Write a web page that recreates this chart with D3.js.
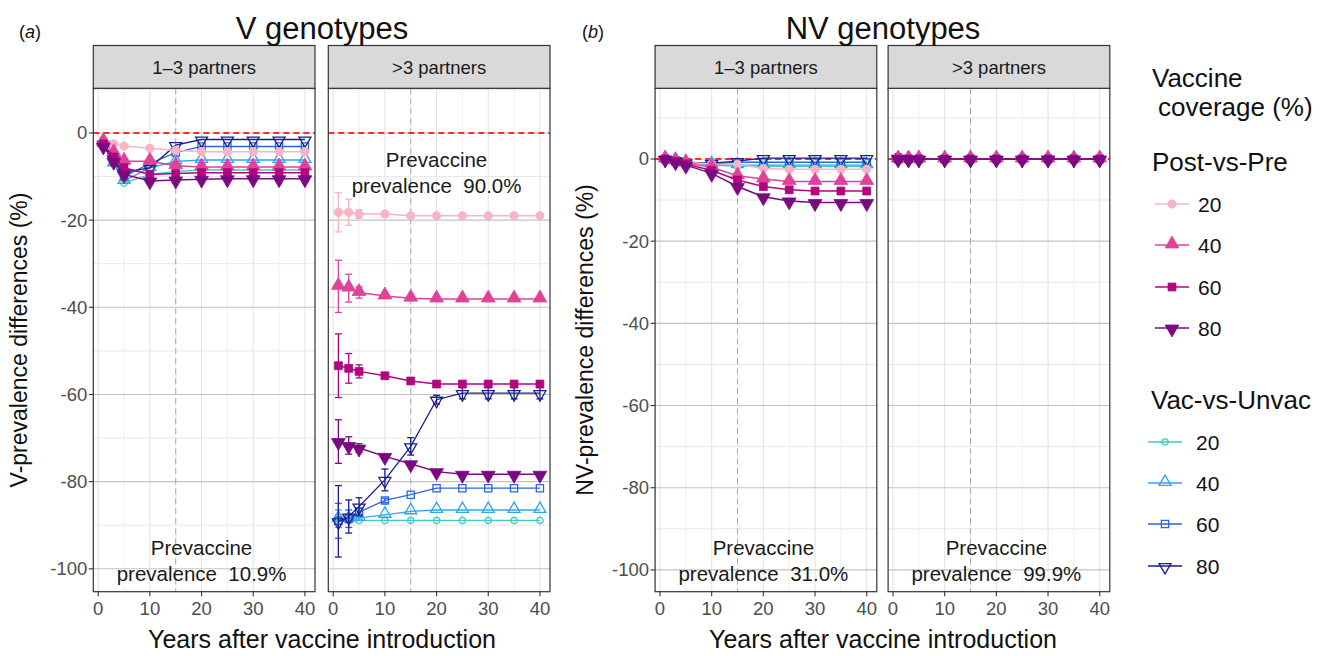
<!DOCTYPE html>
<html><head><meta charset="utf-8">
<script src="https://cdn.jsdelivr.net/npm/d3@7"></script>
<style>
body{margin:0;background:#fff;}
text{font-family:"Liberation Sans",Arial,sans-serif;}
</style></head>
<body><svg id="c" width="1329" height="656"></svg>
<script>
// ---------------- data ----------------
const times = [1, 3, 5, 10, 15, 20, 25, 30, 35, 40];
const coverages = [20, 40, 60, 80];
const xTicks = [0, 10, 20, 30, 40];
const yTicks = [0, -20, -40, -60, -80, -100];
const facetLabels = ["1\u20133 partners", ">3 partners"];

// (a) V genotypes, 1–3 partners
const aLow_pvp20 = [-1.5, -2.5, -3.0, -3.5, -4.0, -4.3, -4.3, -4.3, -4.3, -4.3];
const aLow_pvp40 = [-2.0, -4.5, -6.5, -6.5, -7.5, -7.8, -7.8, -7.8, -7.8, -7.8];
const aLow_pvp60 = [-2.5, -5.5, -8.0, -9.5, -9.3, -9.1, -9.1, -9.1, -9.1, -9.1];
const aLow_pvp80 = [-3.0, -6.5, -9.5, -11.0, -10.8, -10.6, -10.5, -10.5, -10.5, -10.5];
const aLow_vvu20 = [-2.5, -7.0, -11.5, -9.5, -8.8, -8.5, -8.5, -8.5, -8.5, -8.5];
const aLow_vvu40 = [-2.5, -7.0, -11.0, -8.0, -6.5, -6.2, -6.2, -6.2, -6.2, -6.2];
const aLow_vvu60 = [-2.5, -6.5, -10.0, -7.0, -4.5, -3.1, -3.1, -3.1, -3.1, -3.1];
const aLow_vvu80 = [-2.5, -6.0, -9.0, -8.0, -2.8, -1.5, -1.5, -1.5, -1.5, -1.5];

// (a) V genotypes, >3 partners
const aHigh_pvp20 = [-18.2, -18.2, -18.6, -18.6, -19.0, -19.0, -19.0, -19.0, -19.0, -19.0];
const aHigh_pvp40 = [-35.2, -35.6, -36.6, -37.4, -37.9, -38.1, -38.1, -38.1, -38.1, -38.1];
const aHigh_pvp60 = [-53.4, -54.0, -54.7, -55.7, -56.9, -57.6, -57.6, -57.6, -57.6, -57.6];
const aHigh_pvp80 = [-70.8, -71.7, -72.3, -74.2, -75.9, -77.7, -78.3, -78.3, -78.3, -78.3];
const aHigh_vvu20 = [-88.6, -88.8, -88.9, -88.9, -88.9, -88.9, -88.9, -88.9, -88.9, -88.9];
const aHigh_vvu40 = [-88.5, -88.5, -88.3, -87.6, -86.8, -86.5, -86.5, -86.5, -86.5, -86.5];
const aHigh_vvu60 = [-89.0, -88.5, -87.0, -84.3, -83.0, -81.5, -81.5, -81.5, -81.5, -81.5];
const aHigh_vvu80 = [-89.1, -88.0, -85.7, -79.6, -71.9, -61.2, -59.7, -59.7, -59.7, -59.7];

// (a) >3 partners, error-bar half widths
const aHighErr_pvp20 = [4.5, 3.0, 1.0, 0.5, 0, 0, 0, 0, 0, 0];
const aHighErr_pvp40 = [6.0, 3.2, 1.3, 0.5, 0, 0, 0, 0, 0, 0];
const aHighErr_pvp60 = [7.3, 3.4, 1.5, 0.5, 0, 0, 0, 0, 0, 0];
const aHighErr_pvp80 = [5.0, 2.0, 1.0, 0.5, 0, 0, 0, 0, 0, 0];
const aHighErr_vvu20 = [1.0, 0.5, 0, 0, 0, 0, 0, 0, 0, 0];
const aHighErr_vvu40 = [2.0, 1.0, 0.5, 0, 0, 0, 0, 0, 0, 0];
const aHighErr_vvu60 = [4.0, 2.0, 1.0, 0.5, 0, 0, 0, 0, 0, 0];
const aHighErr_vvu80 = [8.2, 3.8, 2.0, 2.5, 2.0, 1.0, 1.3, 1.3, 1.3, 1.3];

// (b) NV genotypes, 1–3 partners
const bLow_pvp20 = [0, -0.3, -0.8, -1.2, -1.3, -2.3, -2.5, -2.5, -2.5, -2.5];
const bLow_pvp40 = [0, -0.5, -1.0, -2.0, -4.1, -4.9, -5.5, -5.5, -5.5, -5.5];
const bLow_pvp60 = [0, -0.6, -1.2, -2.8, -5.1, -6.7, -7.5, -7.8, -7.8, -7.8];
const bLow_pvp80 = [0, -0.7, -1.5, -3.5, -6.7, -9.2, -10.2, -10.6, -10.6, -10.6];
const bLow_vvu20 = [0, -0.3, -0.8, -1.5, -1.8, -1.8, -1.8, -1.8, -1.8, -1.8];
const bLow_vvu40 = [0, -0.3, -0.8, -1.3, -1.5, -1.5, -1.5, -1.5, -1.5, -1.5];
const bLow_vvu60 = [0, -0.3, -0.8, -1.2, -0.8, -0.8, -0.8, -0.8, -0.8, -0.8];
const bLow_vvu80 = [0, -0.3, -0.8, -1.0, -0.5, 0.2, 0.2, 0.2, 0.2, 0.2];

// (b) NV genotypes, >3 partners
const bHigh_pvp20 = [0, 0, 0, 0, 0, 0, 0, 0, 0, 0];
const bHigh_pvp40 = [0, 0, 0, 0, 0, 0, 0, 0, 0, 0];
const bHigh_pvp60 = [0, 0, 0, 0, 0, 0, 0, 0, 0, 0];
const bHigh_pvp80 = [0, 0, 0, 0, 0, 0, 0, 0, 0, 0];
const bHigh_vvu20 = [0, 0, 0, 0, 0, 0, 0, 0, 0, 0];
const bHigh_vvu40 = [0, 0, 0, 0, 0, 0, 0, 0, 0, 0];
const bHigh_vvu60 = [0, 0, 0, 0, 0, 0, 0, 0, 0, 0];
const bHigh_vvu80 = [0.3, 0, 0, 0, 0, 0, 0, 0, 0, 0];
const bHighErr_vvu80 = [1.0, 0, 0, 0, 0, 0, 0, 0, 0, 0];

const prevalenceLabels = ["10.9%", "90.0%", "31.0%", "99.9%"];

// ---------------- styles ----------------
const pvpColors = ["#f8b3c5", "#de4399", "#b1067f", "#7a0a80"];
const vvuColors = ["#3ccdc3", "#2fa5ee", "#2a66dc", "#1b1e8c"];
const shapes = ["circle", "up", "square", "down"];

const svg = d3.select("#c");
const W = 221.7, pTop = 88.3, pBottom = 591.7;

function symPath(shape, filled) {
  const s = filled ? {circle: 55, up: 82, square: 62, down: 82}[shape]
                   : {circle: 32, up: 62, square: 52, down: 62}[shape];
  const t = (shape === "circle") ? d3.symbolCircle : (shape === "square" ? d3.symbolSquare : d3.symbolTriangle);
  return d3.symbol().type(t).size(s)();
}
function drawSymbol(g, x, y, shape, color, filled) {
  const rot = shape === "down" ? 180 : 0;
  const dy = shape === "up" ? -1 : (shape === "down" ? 1 : 0);
  g.append("path").attr("d", symPath(shape, filled))
    .attr("transform", `translate(${x},${y + dy}) rotate(${rot})`)
    .attr("fill", filled ? color : "none")
    .attr("stroke", color).attr("stroke-width", filled ? 0.8 : 1.3);
}

function panel(left, yDomain, series, showYAxis, strip, prevText, prevY) {
  const x = d3.scaleLinear().domain([-0.95, 41.95]).range([left, left + W]);
  const y = d3.scaleLinear().domain(yDomain).range([pBottom, pTop]);
  const g = svg.append("g");
  g.append("rect").attr("x", left).attr("y", pTop).attr("width", W).attr("height", pBottom - pTop).attr("fill", "#fff");
  // minor grid
  const yMinor = d3.range(-110, 30, 10).filter(v => v % 20 !== 0 && v >= yDomain[0] && v <= yDomain[1]);
  g.selectAll(".ymin").data(yMinor).join("line")
    .attr("x1", left).attr("x2", left + W).attr("y1", d => y(d)).attr("y2", d => y(d))
    .attr("stroke", "#e4e4e4").attr("stroke-width", 0.9);
  const xMinor = [5, 15, 25, 35];
  g.selectAll(".xmin").data(xMinor).join("line")
    .attr("x1", d => x(d)).attr("x2", d => x(d)).attr("y1", pTop).attr("y2", pBottom)
    .attr("stroke", "#eeeeee").attr("stroke-width", 0.9);
  // major grid
  g.selectAll(".xmaj").data(xTicks).join("line")
    .attr("x1", d => x(d)).attr("x2", d => x(d)).attr("y1", pTop).attr("y2", pBottom)
    .attr("stroke", "#e2e2e2").attr("stroke-width", 1);
  g.selectAll(".ymaj").data(yTicks).join("line")
    .attr("x1", left).attr("x2", left + W).attr("y1", d => y(d)).attr("y2", d => y(d))
    .attr("stroke", "#c3c3c3").attr("stroke-width", 1.1);
  // reference lines
  g.append("line").attr("x1", x(15)).attr("x2", x(15)).attr("y1", pTop).attr("y2", pBottom)
    .attr("stroke", "#a8a8a8").attr("stroke-width", 1).attr("stroke-dasharray", "6,4");
  g.append("line").attr("x1", left).attr("x2", left + W).attr("y1", y(0)).attr("y2", y(0))
    .attr("stroke", "#ff2a2a").attr("stroke-width", 2).attr("stroke-dasharray", "6,4");

  // annotation
  const cx = x(20);
  g.append("text").attr("x", cx).attr("y", y(prevY[0])).attr("text-anchor", "middle")
    .attr("font-size", 20.5).attr("fill", "#1a1a1a").text("Prevaccine");
  g.append("text").attr("x", cx).attr("y", y(prevY[1])).attr("text-anchor", "middle")
    .attr("font-size", 20.5).attr("fill", "#1a1a1a").attr("xml:space", "preserve").text("prevalence  " + prevText);

  // series: Vac-vs-Unvac underneath, Post-vs-Pre on top
  const line = d3.line().x((d, i) => x(times[i])).y(d => y(d));
  series.forEach(s => {
    const sg = g.append("g");
    sg.append("path").attr("d", line(s.values)).attr("fill", "none")
      .attr("stroke", s.color).attr("stroke-width", s.filled ? 1.5 : 1.3);
    if (s.err) {
      s.err.forEach((e, i) => {
        if (e <= 0) return;
        const xx = x(times[i]);
        sg.append("line").attr("x1", xx).attr("x2", xx)
          .attr("y1", y(s.values[i] + e)).attr("y2", y(s.values[i] - e))
          .attr("stroke", s.color).attr("stroke-width", 1.3);
        [s.values[i] + e, s.values[i] - e].forEach(v => {
          sg.append("line").attr("x1", xx - 3.5).attr("x2", xx + 3.5).attr("y1", y(v)).attr("y2", y(v))
            .attr("stroke", s.color).attr("stroke-width", 1.3);
        });
      });
    }
    s.values.forEach((v, i) => drawSymbol(sg, x(times[i]), y(v), s.shape, s.color, s.filled));
  });

  // border
  g.append("rect").attr("x", left).attr("y", pTop).attr("width", W).attr("height", pBottom - pTop)
    .attr("fill", "none").attr("stroke", "#333").attr("stroke-width", 1.2);
  // strip
  g.append("rect").attr("x", left).attr("y", 45.5).attr("width", W).attr("height", pTop - 45.5)
    .attr("fill", "#d9d9d9").attr("stroke", "#333").attr("stroke-width", 1.2);
  g.append("text").attr("x", left + W / 2).attr("y", 73.5).attr("text-anchor", "middle")
    .attr("font-size", 18.5).attr("fill", "#1a1a1a").text(strip);

  // x axis
  g.selectAll(".xt").data(xTicks).join("line")
    .attr("x1", d => x(d)).attr("x2", d => x(d)).attr("y1", pBottom).attr("y2", pBottom + 4.5)
    .attr("stroke", "#333").attr("stroke-width", 1.1);
  g.selectAll(".xl").data(xTicks).join("text")
    .attr("x", d => x(d)).attr("y", 615).attr("text-anchor", "middle")
    .attr("font-size", 18.5).attr("fill", "#4d4d4d").text(d => d);
  if (showYAxis) {
    g.selectAll(".yt").data(yTicks).join("line")
      .attr("x1", left - 4.5).attr("x2", left).attr("y1", d => y(d)).attr("y2", d => y(d))
      .attr("stroke", "#333").attr("stroke-width", 1.1);
    g.selectAll(".yl").data(yTicks).join("text")
      .attr("x", left - 6).attr("y", d => y(d) + 6.5).attr("text-anchor", "end")
      .attr("font-size", 18.5).attr("fill", "#4d4d4d").text(d => d);
  }
}

function mkSeries(p, errs) {
  const out = [];
  coverages.forEach((c, k) => out.push({values: p.vvu[k], color: vvuColors[k], shape: shapes[k], filled: false, err: errs ? errs.vvu[k] : null}));
  coverages.forEach((c, k) => out.push({values: p.pvp[k], color: pvpColors[k], shape: shapes[k], filled: true, err: errs ? errs.pvp[k] : null}));
  return out;
}

const yA = [-105.25, 10.25], yB = [-105.3, 17.2];
panel(93.3, yA, mkSeries({pvp: [aLow_pvp20, aLow_pvp40, aLow_pvp60, aLow_pvp80], vvu: [aLow_vvu20, aLow_vvu40, aLow_vvu60, aLow_vvu80]}),
  true, facetLabels[0], prevalenceLabels[0], [-96.8, -102.8]);
panel(328.3, yA, mkSeries({pvp: [aHigh_pvp20, aHigh_pvp40, aHigh_pvp60, aHigh_pvp80], vvu: [aHigh_vvu20, aHigh_vvu40, aHigh_vvu60, aHigh_vvu80]},
  {pvp: [aHighErr_pvp20, aHighErr_pvp40, aHighErr_pvp60, aHighErr_pvp80], vvu: [aHighErr_vvu20, aHighErr_vvu40, aHighErr_vvu60, aHighErr_vvu80]}),
  false, facetLabels[1], prevalenceLabels[1], [-7.8, -13.8]);
panel(655.1, yB, mkSeries({pvp: [bLow_pvp20, bLow_pvp40, bLow_pvp60, bLow_pvp80], vvu: [bLow_vvu20, bLow_vvu40, bLow_vvu60, bLow_vvu80]}),
  true, facetLabels[0], prevalenceLabels[2], [-96.4, -102.7]);
panel(888.1, yB, mkSeries({pvp: [bHigh_pvp20, bHigh_pvp40, bHigh_pvp60, bHigh_pvp80], vvu: [bHigh_vvu20, bHigh_vvu40, bHigh_vvu60, bHigh_vvu80]},
  {pvp: [null, null, null, null], vvu: [null, null, null, bHighErr_vvu80]}),
  false, facetLabels[1], prevalenceLabels[3], [-96.4, -102.7]);

// titles
svg.append("text").attr("x", 322).attr("y", 39).attr("text-anchor", "middle").attr("font-size", 31).attr("fill", "#111").text("V genotypes");
svg.append("text").attr("x", 883).attr("y", 39).attr("text-anchor", "middle").attr("font-size", 31).attr("fill", "#111").text("NV genotypes");
const ta = svg.append("text").attr("x", 19).attr("y", 38).attr("font-size", 18).attr("fill", "#111");
ta.append("tspan").text("("); ta.append("tspan").attr("font-style", "italic").text("a"); ta.append("tspan").text(")");
const tb = svg.append("text").attr("x", 582).attr("y", 38).attr("font-size", 18).attr("fill", "#111");
tb.append("tspan").text("("); tb.append("tspan").attr("font-style", "italic").text("b"); tb.append("tspan").text(")");

// axis titles
svg.append("text").attr("x", 322).attr("y", 648).attr("text-anchor", "middle").attr("font-size", 25).attr("fill", "#111").text("Years after vaccine introduction");
svg.append("text").attr("x", 883).attr("y", 648).attr("text-anchor", "middle").attr("font-size", 25).attr("fill", "#111").text("Years after vaccine introduction");
svg.append("text").attr("transform", "translate(27,340) rotate(-90)").attr("text-anchor", "middle").attr("font-size", 23).attr("fill", "#111").text("V-prevalence differences (%)");
svg.append("text").attr("transform", "translate(593,340) rotate(-90)").attr("text-anchor", "middle").attr("font-size", 23).attr("fill", "#111").text("NV-prevalence differences (%)");

// legend
const lg = svg.append("g");
lg.append("text").attr("x", 1152).attr("y", 87).attr("font-size", 26).attr("fill", "#111").text("Vaccine");
lg.append("text").attr("x", 1158).attr("y", 116).attr("font-size", 26).attr("fill", "#111").text("coverage (%)");
lg.append("text").attr("x", 1152).attr("y", 171).attr("font-size", 26).attr("fill", "#111").text("Post-vs-Pre");
lg.append("text").attr("x", 1151).attr("y", 409).attr("font-size", 26).attr("fill", "#111").text("Vac-vs-Unvac");
const pvpY = [204, 245, 287, 328], vvuY = [442, 483, 524, 566];
coverages.forEach((c, k) => {
  lg.append("line").attr("x1", 1155).attr("x2", 1189).attr("y1", pvpY[k]).attr("y2", pvpY[k]).attr("stroke", pvpColors[k]).attr("stroke-width", 1.5);
  drawSymbol(lg, 1172, pvpY[k], shapes[k], pvpColors[k], true);
  lg.append("text").attr("x", 1198).attr("y", pvpY[k] + 7.5).attr("font-size", 21).attr("fill", "#111").text(c);
  lg.append("line").attr("x1", 1148).attr("x2", 1182).attr("y1", vvuY[k]).attr("y2", vvuY[k]).attr("stroke", vvuColors[k]).attr("stroke-width", 1.3);
  drawSymbol(lg, 1165, vvuY[k], shapes[k], vvuColors[k], false);
  lg.append("text").attr("x", 1196).attr("y", vvuY[k] + 7.5).attr("font-size", 21).attr("fill", "#111").text(c);
});
</script></body></html>
